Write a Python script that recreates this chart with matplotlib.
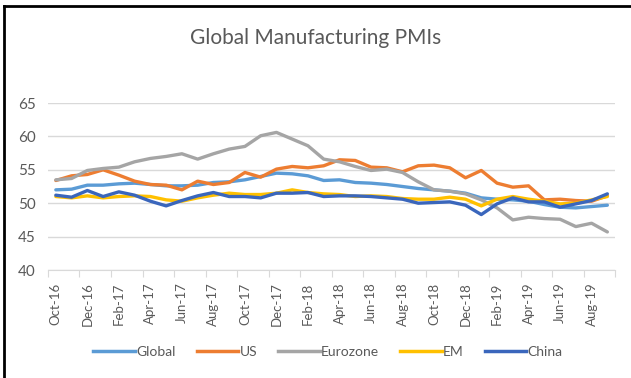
import matplotlib.pyplot as plt
from matplotlib.lines import Line2D

plt.rcParams['font.family'] = ['Lato', 'DejaVu Sans']

months = ["Oct-16", "Nov-16", "Dec-16", "Jan-17", "Feb-17", "Mar-17", "Apr-17", "May-17",
          "Jun-17", "Jul-17", "Aug-17", "Sep-17", "Oct-17", "Nov-17", "Dec-17", "Jan-18",
          "Feb-18", "Mar-18", "Apr-18", "May-18", "Jun-18", "Jul-18", "Aug-18", "Sep-18",
          "Oct-18", "Nov-18", "Dec-18", "Jan-19", "Feb-19", "Mar-19", "Apr-19", "May-19",
          "Jun-19", "Jul-19", "Aug-19", "Sep-19"]

global_pmi = [52.0, 52.1, 52.7, 52.7, 52.9, 53.0, 52.8, 52.6, 52.6, 52.7, 53.1, 53.2,
              53.5, 54.0, 54.5, 54.4, 54.1, 53.4, 53.5, 53.1, 53.0, 52.8, 52.5, 52.2,
              52.0, 51.8, 51.5, 50.8, 50.6, 50.5, 50.3, 49.8, 49.4, 49.3, 49.5, 49.7]
us_pmi = [53.4, 54.1, 54.3, 55.0, 54.2, 53.3, 52.8, 52.7, 52.0, 53.3, 52.8, 53.1,
          54.6, 53.9, 55.1, 55.5, 55.3, 55.6, 56.5, 56.4, 55.4, 55.3, 54.7, 55.6,
          55.7, 55.3, 53.8, 54.9, 53.0, 52.4, 52.6, 50.5, 50.6, 50.4, 50.3, 51.1]
eurozone_pmi = [53.5, 53.7, 54.9, 55.2, 55.4, 56.2, 56.7, 57.0, 57.4, 56.6, 57.4, 58.1,
                58.5, 60.1, 60.6, 59.6, 58.6, 56.6, 56.2, 55.5, 54.9, 55.1, 54.6, 53.2,
                52.0, 51.8, 51.4, 50.5, 49.3, 47.5, 47.9, 47.7, 47.6, 46.5, 47.0, 45.7]
em_pmi = [51.0, 50.8, 51.1, 50.8, 51.0, 51.1, 51.0, 50.5, 50.3, 50.8, 51.2, 51.5,
          51.3, 51.3, 51.5, 52.0, 51.6, 51.4, 51.3, 51.0, 51.1, 51.0, 50.7, 50.6,
          50.6, 50.9, 50.6, 49.6, 50.6, 51.0, 50.6, 50.3, 49.9, 50.0, 50.5, 51.0]
china_pmi = [51.2, 50.9, 51.9, 51.0, 51.7, 51.2, 50.3, 49.6, 50.4, 51.1, 51.6, 51.0,
             51.0, 50.8, 51.5, 51.5, 51.6, 51.0, 51.1, 51.1, 51.0, 50.8, 50.6, 50.0,
             50.1, 50.2, 49.7, 48.3, 49.9, 50.8, 50.2, 50.2, 49.4, 49.9, 50.4, 51.4]

series = [("Global", global_pmi, "#5B9BD5"),
          ("US", us_pmi, "#ED7D31"),
          ("Eurozone", eurozone_pmi, "#A5A5A5"),
          ("EM", em_pmi, "#FFC000"),
          ("China", china_pmi, "#3A66BC")]

fig = plt.figure(figsize=(6.31, 3.78), dpi=100)
ax = fig.add_axes([0.076, 0.2857, 0.899, 0.4418])

x = list(range(len(months)))
for name, vals, color in series:
    ax.plot(x, vals, color=color, lw=2.4, label=name, solid_capstyle="round")

ax.set_ylim(40, 65)
ax.set_yticks([40, 45, 50, 55, 60, 65])
ax.set_xlim(-0.5, len(months) - 0.5)
ax.grid(axis="y", color="#D9D9D9", lw=1)
ax.set_axisbelow(True)
for s in ["top", "right", "left"]:
    ax.spines[s].set_visible(False)
ax.spines["bottom"].set_color("#D9D9D9")

# tick marks between categories, labels every other month
ax.set_xticks([i - 0.5 for i in range(0, len(months) + 1, 2)])
ax.set_xticklabels([])
ax.set_xticks(x[::2], minor=True)
ax.set_xticklabels(months[::2], minor=True, rotation=90, fontsize=9.5, color="#595959")
ax.tick_params(axis="x", which="major", length=5, color="#D9D9D9")
ax.tick_params(axis="x", which="minor", length=0, pad=9)
ax.tick_params(axis="y", length=0, labelsize=11, labelcolor="#595959", pad=9)

fig.text(0.5, 0.9, "Global Manufacturing PMIs", ha="center", va="center",
         fontsize=15, color="#595959")

handles = [Line2D([], [], color=c, lw=2.5) for _, _, c in series]
fig.legend(handles, [n for n, _, _ in series], loc="center", bbox_to_anchor=(0.52, 0.068),
           ncol=5, frameon=False, fontsize=10, handlelength=3.0, handletextpad=0.1,
           columnspacing=1.5, labelcolor="#595959")

# chart border (left and top only visible)
fig.add_artist(Line2D([0.006, 0.006], [0.0, 0.985], color="black", lw=2, transform=fig.transFigure))
fig.add_artist(Line2D([0.006, 1.0], [0.985, 0.985], color="black", lw=2, transform=fig.transFigure))

fig.savefig("out.png", dpi=100)
